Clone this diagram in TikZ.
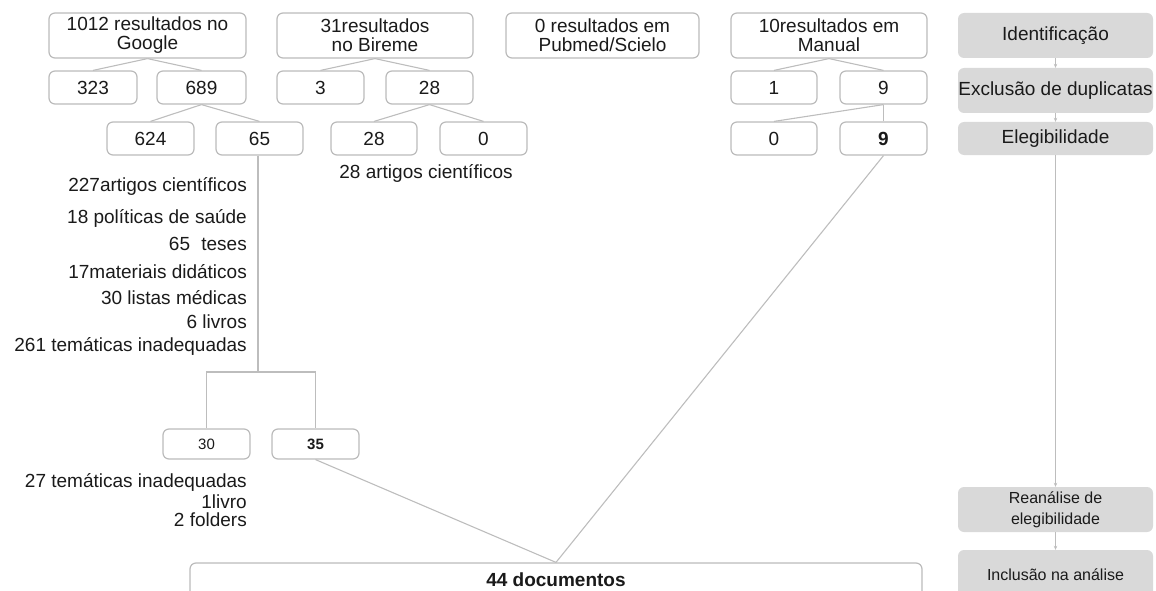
\documentclass[tikz,border=0pt]{standalone}
\usepackage{fontspec}
\setmainfont{Liberation Sans}
\usetikzlibrary{arrows.meta}
\definecolor{bordergray}{HTML}{BBBBBB}
\definecolor{linegray}{HTML}{BDBDBD}
\definecolor{fillgray}{HTML}{D9D9D9}
\definecolor{txt}{HTML}{1A1A1A}
\newcommand\mainfs{\fontsize{19}{19}\selectfont}
\newcommand\smallfs{\fontsize{16}{21}\selectfont}
\newcommand\tinyfs{\fontsize{15}{16}\selectfont}
\begin{document}
\begin{tikzpicture}[x=1pt,y=-1pt,
  wbox/.style={draw=bordergray, line width=1.2pt, rounded corners=6pt, fill=white,
    inner sep=0pt, align=center, text=txt, font=\mainfs},
  gbox/.style={fill=fillgray, rounded corners=6pt, inner sep=0pt, align=center,
    text=txt, font=\mainfs, minimum width=195pt},
  top/.style={wbox, minimum height=45pt},
  mid/.style={wbox, minimum height=33pt},
  low/.style={wbox, minimum height=30pt, minimum width=87pt, font=\tinyfs},
  lbl/.style={inner sep=0pt, text=txt, font=\mainfs, anchor=east},
  conn/.style={draw=linegray, line width=1.1pt},
  arr/.style={conn, -{Stealth[length=4pt,width=3.5pt]}}
]
\useasboundingbox (0,0) rectangle (1156,591);

% top row
\node[top, minimum width=197pt] (google) at (147.5,35.5) {1012 resultados no\\Google};
\node[top, minimum width=196pt] (bireme) at (375,35.5) {31resultados\\no Bireme};
\node[top, minimum width=193pt] (pubmed) at (602.5,35.5) {0 resultados em\\Pubmed/Scielo};
\node[top, minimum width=196pt] (manual) at (829,35.5) {10resultados em\\Manual};

% second row
\node[mid, minimum width=88pt] (n323) at (93,87.5) {323};
\node[mid, minimum width=89pt] (n689) at (201.5,87.5) {689};
\node[mid, minimum width=87pt] (n3) at (320.5,87.5) {3};
\node[mid, minimum width=87pt] (n28) at (429.5,87.5) {28};
\node[mid, minimum width=86pt] (n1) at (774,87.5) {1};
\node[mid, minimum width=87pt] (n9) at (883.5,87.5) {9};

% third row
\node[mid, minimum width=87pt] (n624) at (150.5,138.5) {624};
\node[mid, minimum width=87pt] (n65) at (259.5,138.5) {65};
\node[mid, minimum width=86pt] (n28b) at (374,138.5) {28};
\node[mid, minimum width=87pt] (n0) at (483.5,138.5) {0};
\node[mid, minimum width=86pt] (n0m) at (774,138.5) {0};
\node[mid, minimum width=87pt] (n9b) at (883.5,138.5) {\textbf{9}};

% lower boxes
\node[low] (n30) at (206.5,444) {30};
\node[low] (n35) at (315.5,444) {\textbf{35}};
\node[wbox, minimum width=732pt, minimum height=34pt] (docs) at (556,580) {\textbf{44 documentos}};

% right column
\node[gbox, minimum height=45pt] (ident) at (1055.5,35.5) {Identificação};
\node[gbox, minimum height=45pt] (excl) at (1055.5,90.5) {Exclusão de duplicatas};
\node[gbox, minimum height=33pt] (eleg) at (1055.5,138.5) {Elegibilidade};
\node[gbox, minimum height=45pt, font=\smallfs] (rean) at (1055.5,509.5) {Reanálise de\\elegibilidade};
\node[gbox, minimum height=50pt, font=\smallfs] (incl) at (1055.5,575) {Inclusão na análise};

% labels
\node[lbl] (l1) at (247,186) {227artigos científicos};
\node[lbl] (l2) at (247,218) {18 políticas de saúde};
\node[lbl] (l3) at (247,244) {65\hspace{6pt} teses};
\node[lbl] (l4) at (247,272) {17materiais didáticos};
\node[lbl] (l5) at (247,298) {30 listas médicas};
\node[lbl] (l6) at (247,322) {6 livros};
\node[lbl] (l7) at (247,346) {261 temáticas inadequadas};
\node[inner sep=0pt, text=txt, font=\mainfs] (l28) at (426,173) {28 artigos científicos};
\node[lbl] (m1) at (247,482) {27 temáticas inadequadas};
\node[lbl] (m2) at (247,502) {1livro};
\node[lbl] (m3) at (247,520) {2 folders};

% connectors
\draw[conn] (google.south) -- (n323.north);
\draw[conn] (google.south) -- (n689.north);
\draw[conn] (n689.south) -- (n624.north);
\draw[conn] (n689.south) -- (n65.north);
\draw[conn] (bireme.south) -- (n3.north);
\draw[conn] (bireme.south) -- (n28.north);
\draw[conn] (n28.south) -- (n28b.north);
\draw[conn] (n28.south) -- (n0.north);
\draw[conn] (manual.south) -- (n1.north);
\draw[conn] (manual.south) -- (n9.north);
\draw[conn] (n9.south) -- (n0m.north);
\draw[conn] (n9.south) -- (n9b.north);
\coordinate (bar) at (258,372);
\draw[conn] (n65.south -| bar) -- (bar);
\draw[conn] (n30.north) |- (bar) -| (n35.north);
\draw[conn] (n35.south) -- (docs.north);
\draw[conn] (n9b.south) -- (docs.north);

\draw[arr] (ident) -- (excl);
\draw[arr] (excl) -- (eleg);
\draw[arr] (eleg) -- (rean);
\draw[arr] (rean) -- (incl);
\end{tikzpicture}
\end{document}
